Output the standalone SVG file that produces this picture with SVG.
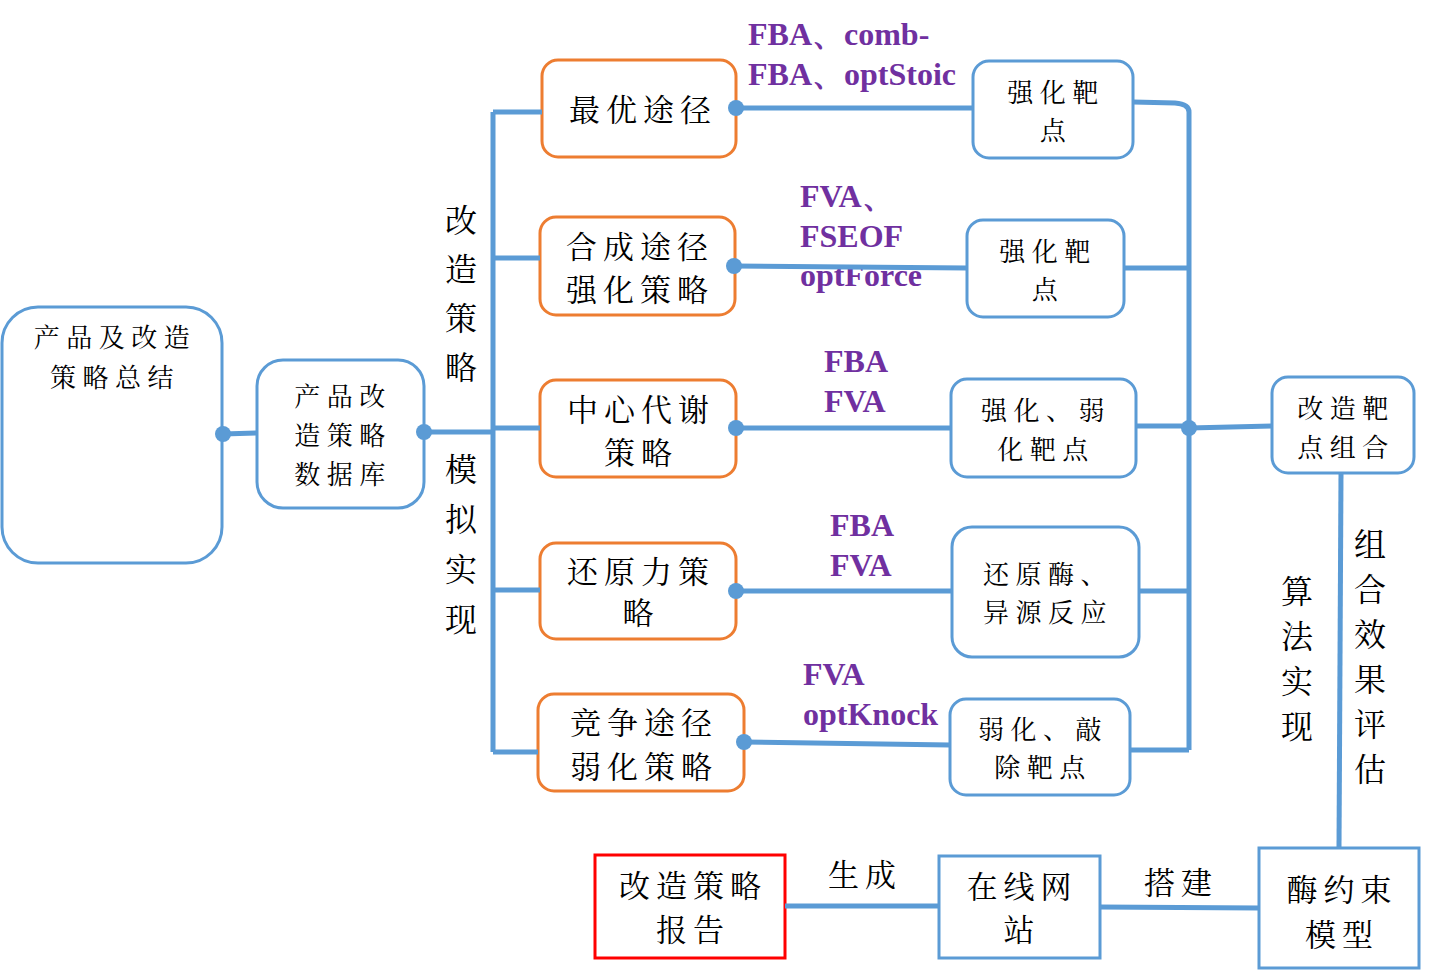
<svg xmlns="http://www.w3.org/2000/svg" width="1435" height="977" viewBox="0 0 1435 977">
<style>
.b{fill:#fff;stroke:#5B9BD5;stroke-width:3}
.o{fill:#fff;stroke:#ED7D31;stroke-width:3}
.r{fill:#fff;stroke:#FF0000;stroke-width:3}
.t{font-family:"Noto Serif CJK SC","Noto Sans CJK SC",serif;fill:#000;text-anchor:middle}
.s26{font-size:26px;letter-spacing:6.5px}
.s30{font-size:31px;letter-spacing:6px}
.s32{font-size:32px}
.p{font-family:"Liberation Serif",serif;font-weight:bold;font-size:32px;fill:#7030A0}
.c{stroke:#5B9BD5;stroke-width:5;fill:none}
.d{fill:#5B9BD5}
</style>
<g id="n-summary">
<rect class="b" x="2" y="307" width="220" height="256" rx="36"/>
<text class="t s26" x="115" y="347">产品及改造</text>
<text class="t s26" x="115" y="387">策略总结</text>
</g>
<g id="n-db">
<rect class="b" x="257" y="360" width="167" height="148" rx="26"/>
<text class="t s26" x="343" y="406">产品改</text>
<text class="t s26" x="343" y="445">造策略</text>
<text class="t s26" x="343" y="484">数据库</text>
</g>
<g id="vlabel1">
<text class="t s32" x="461" y="232">改</text>
<text class="t s32" x="461" y="281">造</text>
<text class="t s32" x="461" y="330">策</text>
<text class="t s32" x="461" y="379">略</text>
<text class="t s32" x="461" y="481">模</text>
<text class="t s32" x="461" y="531">拟</text>
<text class="t s32" x="461" y="581">实</text>
<text class="t s32" x="461" y="631">现</text>
</g>
<g id="n-opt">
<rect class="o" x="542" y="60" width="194" height="97" rx="16"/>
<text class="t s30" x="643" y="121">最优途径</text>
</g>
<g id="n-syn">
<rect class="o" x="540" y="217" width="195" height="98" rx="16"/>
<text class="t s30" x="640" y="258">合成途径</text>
<text class="t s30" x="640" y="301">强化策略</text>
</g>
<g id="n-central">
<rect class="o" x="540" y="380" width="196" height="97" rx="16"/>
<text class="t s30" x="641" y="421">中心代谢</text>
<text class="t s30" x="641" y="464">策略</text>
</g>
<g id="n-redox">
<rect class="o" x="540" y="543" width="196" height="96" rx="16"/>
<text class="t s30" x="641" y="583">还原力策</text>
<text class="t s30" x="641" y="624">略</text>
</g>
<g id="n-comp">
<rect class="o" x="538" y="694" width="206" height="97" rx="16"/>
<text class="t s30" x="644" y="734">竞争途径</text>
<text class="t s30" x="644" y="778">弱化策略</text>
</g>
<g id="labels">
<text class="p" x="748" y="45">FBA、comb-</text>
<text class="p" x="748" y="85">FBA、optStoic</text>
<text class="p" x="800" y="207">FVA、</text>
<text class="p" x="800" y="247">FSEOF</text>
<text class="p" x="800" y="286">optForce</text>
<text class="p" x="824" y="372">FBA</text>
<text class="p" x="824" y="412">FVA</text>
<text class="p" x="830" y="536">FBA</text>
<text class="p" x="830" y="576">FVA</text>
<text class="p" x="803" y="685">FVA</text>
<text class="p" x="803" y="725">optKnock</text>
</g>
<g id="n-t1">
<rect class="b" x="973" y="61" width="160" height="97" rx="16"/>
<text class="t s26" x="1056" y="102">强化靶</text>
<text class="t s26" x="1056" y="140">点</text>
</g>
<g id="n-t2">
<rect class="b" x="967" y="220" width="157" height="97" rx="16"/>
<text class="t s26" x="1048" y="261">强化靶</text>
<text class="t s26" x="1048" y="299">点</text>
</g>
<g id="n-t3">
<rect class="b" x="951" y="379" width="185" height="98" rx="16"/>
<text class="t s26" x="1046" y="420">强化、弱</text>
<text class="t s26" x="1046" y="459">化靶点</text>
</g>
<g id="n-t4">
<rect class="b" x="952" y="527" width="187" height="130" rx="20"/>
<text class="t s26" x="1048" y="584">还原酶、</text>
<text class="t s26" x="1048" y="622">异源反应</text>
</g>
<g id="n-t5">
<rect class="b" x="950" y="699" width="180" height="96" rx="16"/>
<text class="t s26" x="1043" y="739">弱化、敲</text>
<text class="t s26" x="1043" y="777">除靶点</text>
</g>
<g id="n-combo">
<rect class="b" x="1272" y="377" width="142" height="96" rx="16"/>
<text class="t s26" x="1346" y="418">改造靶</text>
<text class="t s26" x="1346" y="457">点组合</text>
</g>
<g id="vlabel2">
<text class="t s32" x="1297" y="603">算</text>
<text class="t s32" x="1297" y="648">法</text>
<text class="t s32" x="1297" y="693">实</text>
<text class="t s32" x="1297" y="738">现</text>
<text class="t s32" x="1370" y="556">组</text>
<text class="t s32" x="1370" y="601">合</text>
<text class="t s32" x="1370" y="646">效</text>
<text class="t s32" x="1370" y="691">果</text>
<text class="t s32" x="1370" y="736">评</text>
<text class="t s32" x="1370" y="781">估</text>
</g>
<g id="n-model">
<rect class="b" x="1259" y="848" width="160" height="120"/>
<text class="t s30" x="1342" y="901">酶约束</text>
<text class="t s30" x="1342" y="946">模型</text>
</g>
<g id="n-web">
<rect class="b" x="939" y="856" width="161" height="102"/>
<text class="t s30" x="1022" y="898">在线网</text>
<text class="t s30" x="1022" y="941">站</text>
</g>
<g id="n-report">
<rect class="r" x="595" y="855" width="190" height="103"/>
<text class="t s30" x="693" y="897">改造策略</text>
<text class="t s30" x="693" y="941">报告</text>
</g>
<g id="edge-labels">
<text class="t s30" x="865" y="886">生成</text>
<text class="t s30" x="1181" y="894">搭建</text>
</g>
<g id="connectors">
<line class="c" x1="223" y1="434" x2="257" y2="433"/>
<line class="c" x1="424" y1="432" x2="493" y2="432"/>
<line class="c" x1="493" y1="112" x2="493" y2="752"/>
<line class="c" x1="493" y1="112" x2="542" y2="112"/>
<line class="c" x1="493" y1="258" x2="540" y2="258"/>
<line class="c" x1="493" y1="428" x2="540" y2="428"/>
<line class="c" x1="493" y1="590" x2="540" y2="590"/>
<line class="c" x1="493" y1="752" x2="538" y2="752"/>
<line class="c" x1="736" y1="108" x2="973" y2="108"/>
<line class="c" x1="734" y1="266" x2="967" y2="268"/>
<line class="c" x1="736" y1="428" x2="951" y2="428"/>
<line class="c" x1="736" y1="591" x2="952" y2="591"/>
<line class="c" x1="744" y1="742" x2="950" y2="745"/>
<path class="c" d="M1133 102 L1175 103 Q1189 104 1189 112 L1189 750"/>
<line class="c" x1="1124" y1="268" x2="1189" y2="268"/>
<line class="c" x1="1136" y1="426" x2="1189" y2="426"/>
<line class="c" x1="1139" y1="591" x2="1189" y2="591"/>
<line class="c" x1="1130" y1="750" x2="1189" y2="750"/>
<line class="c" x1="1189" y1="428" x2="1272" y2="426"/>
<line class="c" x1="1341" y1="473" x2="1339" y2="848"/>
<line class="c" x1="785" y1="906" x2="939" y2="906"/>
<line class="c" x1="1100" y1="907" x2="1259" y2="908"/>
<circle class="d" cx="223" cy="434" r="8"/>
<circle class="d" cx="424" cy="432" r="8"/>
<circle class="d" cx="736" cy="108" r="8"/>
<circle class="d" cx="734" cy="266" r="8"/>
<circle class="d" cx="736" cy="428" r="8"/>
<circle class="d" cx="736" cy="591" r="8"/>
<circle class="d" cx="744" cy="742" r="8"/>
<circle class="d" cx="1189" cy="428" r="8"/>
</g>
</svg>
